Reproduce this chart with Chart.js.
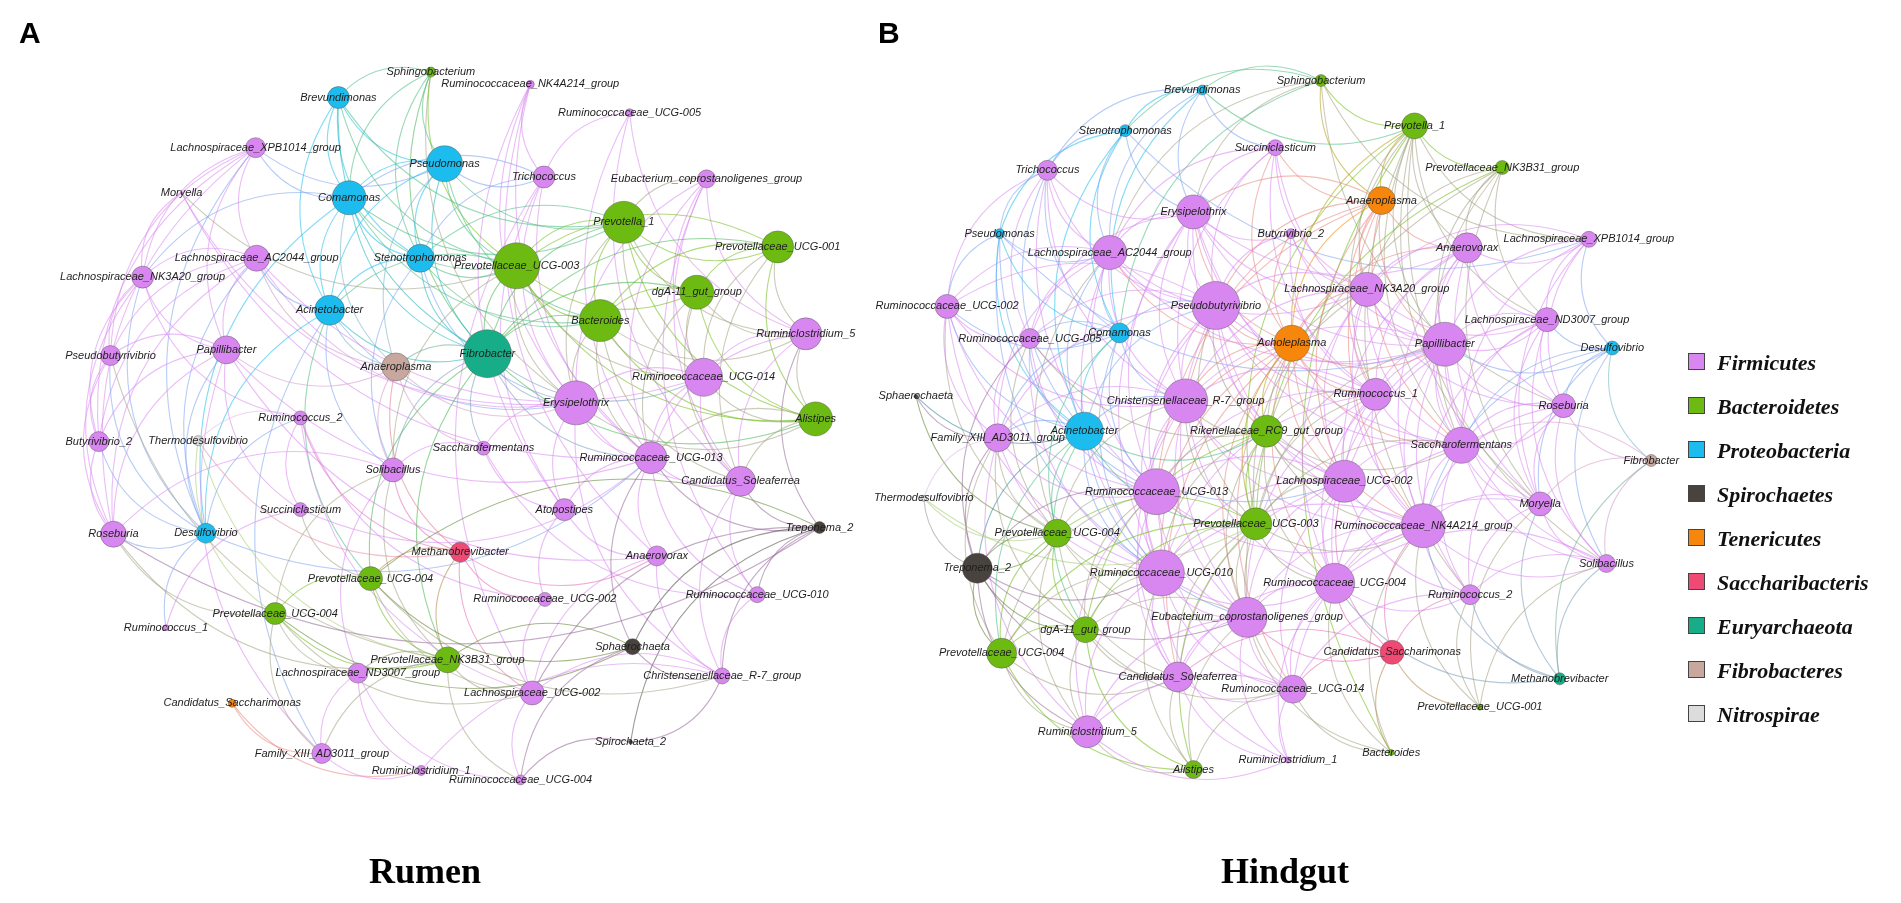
<!DOCTYPE html>
<html lang="en">
  <head>
    <meta charset="UTF-8" />
    <script src="https://cdn.jsdelivr.net/npm/chart.js@4.4.1/dist/chart.umd.min.js"></script>
    <title>rumen_hindgut_network</title>
    <style>
      body { margin: 0; padding: 0; background: #fff; }
      .wrap { position: relative; width: 1901px; height: 903px; overflow: hidden; }
      canvas { position: absolute; left: 0; top: 0; }
      .tag { position: absolute; font: bold 30px 'Liberation Sans', Arial, sans-serif; color: #000; }
      .site { position: absolute; font: bold 36px 'Liberation Serif', 'Times New Roman', serif; color: #000; transform: translateX(-50%); }
      .legend { position: absolute; left: 1688px; top: 350px; }
      .legend div { height: 44px; display: flex; align-items: flex-start; font: italic bold 22px 'Liberation Serif', 'Times New Roman', serif; color: #111; }
      .legend span.box { width: 15px; height: 15px; border: 1px solid #444; margin: 3px 12px 0 0; }
    </style>
  </head>
  <body>
    <div class="wrap">
      <canvas id="net" width="1901" height="903"></canvas>
      <div class="tag" style="left: 19px; top: 16px">A</div>
      <div class="tag" style="left: 878px; top: 16px">B</div>
      <div class="site" style="left: 425px; top: 850px">Rumen</div>
      <div class="site" style="left: 1285px; top: 850px">Hindgut</div>
      <div class="legend" id="legend"></div>
    </div>
    <script>
      const phyla = ['Firmicutes', 'Bacteroidetes', 'Proteobacteria', 'Spirochaetes', 'Tenericutes', 'Saccharibacteris', 'Euryarchaeota', 'Fibrobacteres', 'Nitrospirae']
      const phylumColors = ['#d987f0', '#6dbb12', '#1cbdee', '#48433e', '#f7860c', '#ef4a73', '#17ad88', '#c8a89e', '#dcdcdc']

      // Rumen network (A)
      const rumenNames = ['Sphingobacterium', 'Ruminococcaceae_NK4A214_group', 'Brevundimonas', 'Ruminococcaceae_UCG-005', 'Lachnospiraceae_XPB1014_group', 'Pseudomonas', 'Trichococcus', 'Eubacterium_coprostanoligenes_group', 'Moryella', 'Comamonas', 'Prevotella_1', 'Prevotellaceae_UCG-001', 'Lachnospiraceae_AC2044_group', 'Stenotrophomonas', 'Prevotellaceae_UCG-003', 'Lachnospiraceae_NK3A20_group', 'dgA-11_gut_group', 'Acinetobacter', 'Bacteroides', 'Ruminiclostridium_5', 'Papillibacter', 'Pseudobutyrivibrio', 'Fibrobacter', 'Anaeroplasma', 'Ruminococcaceae_UCG-014', 'Erysipelothrix', 'Alistipes', 'Ruminococcus_2', 'Butyrivibrio_2', 'Thermodesulfovibrio', 'Saccharofermentans', 'Ruminococcaceae_UCG-013', 'Solibacillus', 'Candidatus_Soleaferrea', 'Succiniclasticum', 'Atopostipes', 'Treponema_2', 'Roseburia', 'Desulfovibrio', 'Methanobrevibacter', 'Anaerovorax', 'Prevotellaceae_UCG-004', 'Ruminococcaceae_UCG-010', 'Ruminococcaceae_UCG-002', 'Prevotellaceae_UCG-004', 'Ruminococcus_1', 'Sphaerochaeta', 'Prevotellaceae_NK3B31_group', 'Lachnospiraceae_ND3007_group', 'Christensenellaceae_R-7_group', 'Lachnospiraceae_UCG-002', 'Candidatus_Saccharimonas', 'Spirochaeta_2', 'Family_XIII_AD3011_group', 'Ruminiclostridium_1', 'Ruminococcaceae_UCG-004']
      const rumenX = [417, 519, 322, 621, 237, 431, 533, 700, 161, 333, 615, 773, 238, 406, 505, 121, 690, 313, 591, 802, 207, 88, 475, 381, 697, 566, 812, 283, 76, 178, 471, 643, 378, 735, 283, 554, 816, 91, 186, 447, 649, 355, 752, 534, 257, 145, 624, 434, 342, 716, 521, 213, 622, 305, 407, 509]
      const rumenY = [50, 63, 77, 93, 130, 147, 161, 163, 178, 183, 209, 235, 247, 247, 255, 267, 283, 302, 313, 327, 344, 350, 348, 362, 373, 400, 417, 416, 441, 440, 448, 458, 471, 483, 513, 513, 532, 539, 538, 558, 562, 586, 603, 608, 623, 638, 658, 672, 686, 689, 707, 718, 759, 771, 789, 799]
      const rumenSize = [5, 4, 11, 4, 10, 18, 11, 9, 1, 17, 21, 16, 13, 14, 23, 11, 17, 15, 21, 16, 14, 10, 24, 14, 19, 22, 17, 7, 10, 5, 7, 16, 12, 15, 7, 11, 6, 13, 10, 10, 10, 12, 8, 7, 11, 3, 8, 13, 10, 8, 12, 4, 2, 10, 5, 5]
      const rumenPhylum = [1, 0, 2, 0, 0, 2, 0, 0, 0, 2, 1, 1, 0, 2, 1, 0, 1, 2, 1, 0, 0, 0, 6, 7, 0, 0, 1, 0, 0, 8, 0, 0, 0, 0, 0, 0, 3, 0, 2, 5, 0, 1, 0, 0, 1, 0, 3, 1, 0, 0, 0, 4, 3, 0, 0, 0]
      const rumenEdges = [
        [0, 9, 13, 22, 25, 14, 5, 2], [1, 6, 31, 25, 35, 40], [2, 9, 5, 17, 13, 22, 14, 10], [3, 6, 19, 33, 31],
        [4, 12, 15, 20, 37, 21, 28, 38, 5, 9], [5, 9, 13, 17, 22, 14, 10, 18, 23, 6], [6, 9, 25, 35, 50, 13, 31],
        [7, 24, 25, 31, 33, 42, 19, 10], [8, 15, 31, 14, 25], [9, 13, 17, 22, 14, 18, 38, 23, 15, 10],
        [10, 14, 18, 16, 11, 22, 26, 19, 24, 25, 13], [11, 16, 19, 26, 24, 33, 22, 18, 14],
        [12, 15, 20, 37, 21, 28, 38, 25, 24, 23, 17], [13, 17, 22, 14, 18, 25, 32], [14, 18, 16, 22, 26, 25, 24, 17, 32],
        [15, 20, 21, 28, 37, 38, 27], [16, 18, 26, 19, 24, 22, 33, 31], [17, 22, 23, 32, 38, 53, 41, 25],
        [18, 26, 19, 22, 24, 33, 25, 31], [19, 26, 24, 33, 31, 36], [20, 21, 37, 28, 38, 40, 31, 23, 53, 34],
        [21, 28, 37, 38, 47], [22, 25, 24, 23, 31, 32, 41, 26, 30, 47], [23, 32, 25, 30, 39], [24, 25, 31, 33, 26],
        [25, 31, 35, 33, 30, 26, 49], [26, 33, 31], [27, 38, 29, 39, 50, 34, 43], [28, 37, 38], [29, 47, 39, 44],
        [30, 35, 32, 42], [31, 33, 35, 40, 46, 36, 42], [32, 47, 39, 48, 37, 44], [33, 36, 42, 49], [34, 45, 41, 31],
        [35, 43, 40], [36, 46, 49, 41, 50, 52, 42], [37, 38, 47, 44, 36], [38, 45, 31], [39, 47, 41, 43, 50, 40],
        [40, 49, 42, 50], [41, 44, 47, 46, 50, 49], [42, 49], [43, 50], [44, 47, 48, 46, 53, 50], [46, 47, 49, 55],
        [47, 50, 48, 53, 55], [48, 53, 54, 55], [49, 50, 54], [50, 55], [51, 53, 54], [52, 55, 49], [53, 54],
      ]

      // Hindgut network (B)
      const hindgutNames = ['Sphingobacterium', 'Brevundimonas', 'Stenotrophomonas', 'Prevotella_1', 'Succiniclasticum', 'Prevotellaceae_NK3B31_group', 'Trichococcus', 'Anaeroplasma', 'Erysipelothrix', 'Butyrivibrio_2', 'Pseudomonas', 'Anaerovorax', 'Lachnospiraceae_XPB1014_group', 'Lachnospiraceae_AC2044_group', 'Lachnospiraceae_NK3A20_group', 'Pseudobutyrivibrio', 'Ruminococcaceae_UCG-002', 'Lachnospiraceae_ND3007_group', 'Comamonas', 'Ruminococcaceae_UCG-005', 'Acholeplasma', 'Papillibacter', 'Desulfovibrio', 'Ruminococcus_1', 'Sphaerochaeta', 'Christensenellaceae_R-7_group', 'Roseburia', 'Rikenellaceae_RC9_gut_group', 'Acinetobacter', 'Family_XIII_AD3011_group', 'Saccharofermentans', 'Fibrobacter', 'Lachnospiraceae_UCG-002', 'Ruminococcaceae_UCG-013', 'Thermodesulfovibrio', 'Moryella', 'Prevotellaceae_UCG-003', 'Ruminococcaceae_NK4A214_group', 'Prevotellaceae_UCG-004', 'Solibacillus', 'Treponema_2', 'Ruminococcaceae_UCG-010', 'Ruminococcaceae_UCG-004', 'Ruminococcus_2', 'Eubacterium_coprostanoligenes_group', 'dgA-11_gut_group', 'Candidatus_Saccharimonas', 'Prevotellaceae_UCG-004', 'Methanobrevibacter', 'Candidatus_Soleaferrea', 'Ruminococcaceae_UCG-014', 'Prevotellaceae_UCG-001', 'Ruminiclostridium_5', 'Bacteroides', 'Ruminiclostridium_1', 'Alistipes']
      const hindgutX = [1331, 1209, 1130, 1427, 1284, 1517, 1050, 1393, 1200, 1300, 1001, 1481, 1606, 1114, 1378, 1223, 947, 1563, 1124, 1032, 1301, 1458, 1630, 1387, 915, 1192, 1580, 1275, 1088, 999, 1475, 1670, 1355, 1162, 923, 1556, 1264, 1436, 1060, 1624, 978, 1167, 1345, 1484, 1255, 1089, 1404, 1003, 1576, 1184, 1302, 1494, 1091, 1403, 1297, 1200]
      const hindgutY = [59, 69, 112, 107, 130, 151, 154, 186, 198, 221, 221, 236, 227, 241, 280, 297, 298, 312, 326, 332, 337, 338, 342, 391, 393, 398, 403, 430, 430, 437, 445, 461, 483, 494, 501, 507, 528, 530, 538, 570, 575, 580, 591, 603, 627, 640, 664, 665, 692, 690, 703, 722, 748, 770, 778, 788]
      const hindgutSize = [6, 5, 6, 13, 8, 7, 10, 14, 17, 5, 5, 15, 8, 17, 17, 24, 12, 12, 10, 10, 18, 22, 7, 16, 2, 22, 12, 16, 19, 14, 18, 6, 21, 23, 3, 12, 16, 22, 14, 9, 15, 23, 20, 10, 20, 13, 12, 15, 6, 15, 14, 3, 16, 3, 3, 9]
      const hindgutPhylum = [1, 2, 2, 1, 0, 1, 0, 4, 0, 0, 2, 0, 0, 0, 0, 0, 0, 0, 2, 0, 4, 0, 2, 0, 3, 0, 0, 1, 2, 0, 0, 7, 0, 0, 8, 0, 1, 0, 1, 0, 3, 0, 0, 0, 0, 1, 5, 1, 6, 0, 0, 1, 0, 1, 0, 1]
      const hindgutEdges = [
        [0, 1, 2, 3, 8, 13, 26, 18, 12, 7], [1, 2, 13, 18, 6, 8, 4, 3], [2, 18, 13, 28, 10, 8, 6, 12],
        [3, 5, 7, 11, 14, 21, 35, 39, 36, 43, 23, 30, 20, 12, 17, 53], [4, 8, 15, 14, 20, 21, 25, 23, 7, 13],
        [5, 11, 14, 21, 30, 35, 17, 44, 36], [6, 13, 15, 16, 19, 25, 8, 18, 28, 33, 10],
        [7, 8, 14, 15, 20, 21, 25, 23, 32, 37, 30, 33, 11], [8, 13, 15, 14, 21, 25, 23, 20, 33, 32, 9, 11, 30, 19, 41],
        [9, 15, 14, 20, 21, 23], [10, 13, 28, 16, 18, 33, 41, 21], [11, 14, 21, 17, 26, 30, 35, 37, 23, 32, 12, 20],
        [12, 17, 21, 26, 22, 35, 14, 30], [13, 15, 16, 18, 19, 25, 28, 33, 14, 21, 29, 41, 38, 20],
        [14, 15, 20, 21, 23, 25, 32, 30, 37, 27, 36, 17, 42, 26],
        [15, 18, 19, 20, 21, 25, 23, 28, 33, 32, 27, 41, 36, 29, 16, 37, 30, 44], [16, 19, 29, 25, 28, 33, 38, 41, 18],
        [17, 21, 26, 35, 30, 22, 32, 39, 37], [18, 19, 28, 25, 33, 29, 41, 38], [19, 25, 28, 29, 33, 41, 38, 27, 40],
        [20, 21, 23, 25, 27, 32, 33, 30, 37, 41, 36, 44, 42, 49, 50], [21, 23, 26, 30, 32, 35, 37, 25, 36, 42, 39, 43, 22, 17],
        [22, 26, 31, 35, 39, 30, 37], [23, 25, 27, 32, 30, 37, 36, 33, 42, 44, 41], [24, 29, 38, 28],
        [25, 27, 28, 33, 32, 41, 36, 29, 38, 44, 37, 42, 49], [26, 30, 35, 39, 31, 37, 43], [27, 33, 32, 36, 41, 42, 44, 37, 45, 30],
        [28, 29, 33, 38, 41, 40, 45, 47, 36, 44, 27, 32], [29, 33, 38, 40, 34, 41, 47, 45, 52], [30, 32, 35, 37, 39, 43, 36, 42, 26],
        [31, 35, 39, 48, 30], [32, 33, 36, 37, 42, 41, 44, 49, 50, 46, 43], [33, 36, 38, 41, 44, 45, 40, 49, 47, 52, 37, 50],
        [34, 40, 38, 36], [35, 37, 39, 43, 48, 42, 51], [36, 41, 37, 42, 44, 45, 49, 50, 38, 47, 55],
        [37, 39, 42, 43, 44, 46, 41, 50, 48, 51, 53], [38, 40, 41, 45, 47, 44, 52, 49], [39, 43, 48, 42, 51],
        [40, 45, 47, 41, 52, 44, 49, 38], [41, 44, 45, 49, 47, 52, 50, 42, 55, 54], [42, 44, 43, 46, 50, 49, 53, 54, 48],
        [43, 46, 48, 51, 50], [44, 45, 49, 50, 52, 46, 55, 54, 53], [45, 47, 52, 49, 55, 50], [46, 50, 51, 53, 49],
        [47, 52, 49, 55], [49, 52, 55, 50, 54], [50, 55, 53, 54, 52], [52, 55, 54],
      ]

      const panels = [
        { names: rumenNames, x: rumenX, y: rumenY, size: rumenSize, phylum: rumenPhylum, edges: rumenEdges },
        { names: hindgutNames, x: hindgutX, y: hindgutY, size: hindgutSize, phylum: hindgutPhylum, edges: hindgutEdges },
      ]

      const hexToRgb = (hex) => [1, 3, 5].map((i) => parseInt(hex.slice(i, i + 2), 16))
      const mixColor = (a, b, alpha) => {
        const ca = hexToRgb(a)
        const cb = hexToRgb(b)
        const m = ca.map((v, i) => Math.round((v + cb[i]) / 2))
        return 'rgba(' + m.join(',') + ',' + alpha + ')'
      }

      const networkPlugin = {
        id: 'network',
        beforeDatasetsDraw(chart) {
          const { ctx, scales } = chart
          ctx.save()
          ctx.lineWidth = 1.1
          panels.forEach((p) => {
            p.edges.forEach(([s, ...targets]) => {
              targets.forEach((t) => {
                const x1 = scales.x.getPixelForValue(p.x[s])
                const y1 = scales.y.getPixelForValue(p.y[s])
                const x2 = scales.x.getPixelForValue(p.x[t])
                const y2 = scales.y.getPixelForValue(p.y[t])
                const dx = x2 - x1
                const dy = y2 - y1
                const bend = 0.32
                const cx = (x1 + x2) / 2 - dy * bend
                const cy = (y1 + y2) / 2 + dx * bend
                ctx.strokeStyle = mixColor(phylumColors[p.phylum[s]], phylumColors[p.phylum[t]], 0.55)
                ctx.beginPath()
                ctx.moveTo(x1, y1)
                ctx.quadraticCurveTo(cx, cy, x2, y2)
                ctx.stroke()
              })
            })
          })
          ctx.restore()
        },
        afterDatasetsDraw(chart) {
          const { ctx, scales } = chart
          ctx.save()
          ctx.font = 'italic 11px "Liberation Sans", Arial, sans-serif'
          ctx.fillStyle = '#1e1e1e'
          ctx.textAlign = 'center'
          ctx.textBaseline = 'middle'
          panels.forEach((p) => {
            p.names.forEach((name, i) => {
              ctx.fillText(name, scales.x.getPixelForValue(p.x[i]), scales.y.getPixelForValue(p.y[i]))
            })
          })
          ctx.restore()
        },
      }

      const datasets = panels.map((p) => ({
        data: p.names.map((n, i) => ({ x: p.x[i], y: p.y[i], r: p.size[i] })),
        backgroundColor: p.phylum.map((k) => phylumColors[k]),
        borderColor: 'rgba(80,80,80,0.55)',
        borderWidth: 0.8,
      }))

      new Chart(document.getElementById('net').getContext('2d'), {
        type: 'bubble',
        data: { datasets },
        options: {
          responsive: false,
          animation: false,
          devicePixelRatio: 1,
          layout: { padding: 0 },
          plugins: { legend: { display: false }, tooltip: { enabled: false } },
          scales: {
            x: { type: 'linear', min: 0, max: 1901, display: false },
            y: { type: 'linear', min: 0, max: 903, reverse: true, display: false },
          },
        },
        plugins: [networkPlugin],
      })

      const legend = document.getElementById('legend')
      phyla.forEach((name, i) => {
        const row = document.createElement('div')
        row.innerHTML = '<span class="box" style="background:' + phylumColors[i] + '"></span>' + name
        legend.appendChild(row)
      })
    </script>
  </body>
</html>
